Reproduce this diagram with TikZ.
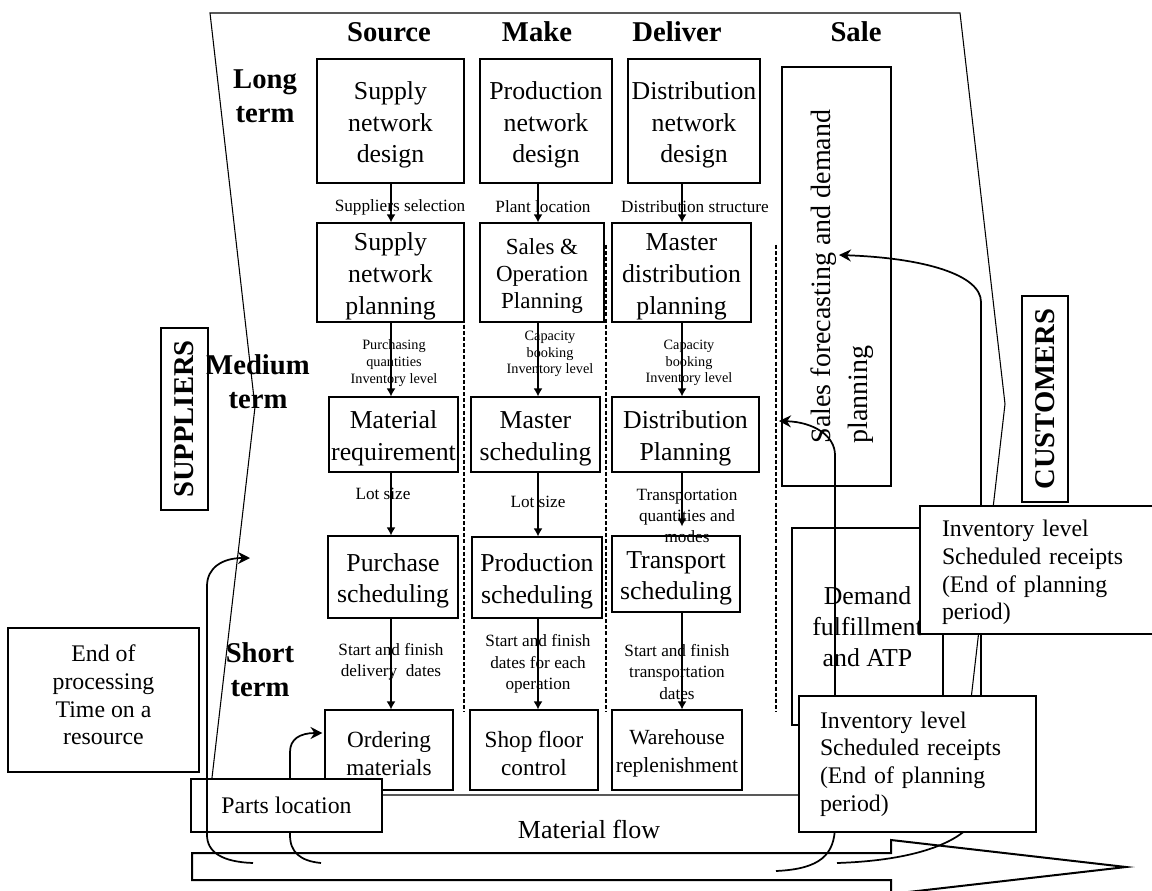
\documentclass[tikz,border=0pt]{standalone}
\usepackage{fontspec}
\setmainfont{Liberation Serif}
\usetikzlibrary{arrows.meta,calc}
\newcommand{\bxs}{\rule{0pt}{1em}}
\tikzset{
  pbox/.style={draw, line width=0.8pt, inner sep=0pt, align=center, font=\fontsize{19.35}{23.8}\selectfont},
  hdr/.style={inner sep=0pt, align=center, font=\fontsize{21.5}{25.5}\selectfont\bfseries},
  lbl/.style={inner sep=0pt, align=center, font=\fontsize{12.9}{16}\selectfont},
  tlbl/.style={inner sep=0pt, align=center, font=\fontsize{10.7}{12.5}\selectfont},
  flowarr/.style={line width=1.3pt, -{Latex[length=6pt,width=6.75pt]}},
  conn/.style={line width=1.3pt, -{Stealth[length=9pt,width=9pt,inset=3pt]}},
  dsep/.style={line width=1.1pt, dash pattern=on 3pt off 1.6pt},
  infobox/.style={draw, line width=1.5pt, fill=white, inner ysep=0pt, align=left, font=\fontsize{17.85}{20.7}\selectfont},
  sidebox/.style={draw, line width=1.1pt, rotate=90, inner sep=0pt, font=\fontsize{21.5}{25}\selectfont\bfseries},
}
\begin{document}
\begin{tikzpicture}[x=0.75pt,y=-0.75pt]
\useasboundingbox (0,0) rectangle (1152,891);
% outline
\draw[line width=0.8pt] (210,13) -- (960,13) -- (1005,404) -- (960,795) -- (210,795) -- (255,407) -- cycle;
% separators
\coordinate (s1t) at (464,245); \coordinate (s1b) at (464,712);
\coordinate (s2t) at (606,245); \coordinate (s2b) at (606,712);
\coordinate (s3t) at (776,245); \coordinate (s3b) at (776,712);
\draw[dsep] (s1t) -- (s1b);
\draw[dsep] (s2t) -- (s2b);
\draw[dsep] (s3t) -- (s3b);
% headings
\node[hdr] (hS) at (389,32) {Source};
\node[hdr] (hM) at (537,32) {Make};
\node[hdr] (hD) at (677,32) {Deliver};
\node[hdr] (hSa) at (856,32) {Sale};
\node[hdr] (hL) at (265,96) {Long\\term};
\node[hdr] (hMe) at (258,382) {Medium\\term};
\node[hdr] (hSh) at (260,670) {Short\\term};
% row 1
\node[pbox, minimum width=110.25pt, minimum height=93pt] (snd) at (390.5,121) {\bxs Supply\\network\\design};
\node[pbox, minimum width=99pt, minimum height=93pt] (pnd) at (546,121) {\bxs Production\\network\\design};
\node[pbox, minimum width=99pt, minimum height=93pt] (dnd) at (694,121) {\bxs Distribution\\network\\design};
% row 2
\node[pbox, minimum width=110.25pt, minimum height=74.25pt] (snp) at (390.5,272.5) {\bxs Supply\\network\\planning};
\node[pbox, minimum width=93pt, minimum height=74.25pt, font=\fontsize{17.25}{20.6}\selectfont] (sop) at (542,272.5) {\bxs Sales \&\\Operation\\Planning};
\node[pbox, minimum width=104.25pt, minimum height=74.25pt] (mdp) at (681.5,272.5) {\bxs Master\\distribution\\planning};
% row 3
\node[pbox, minimum width=96.75pt, minimum height=56.25pt] (mr) at (393.5,434.5) {\bxs Material\\requirement};
\node[pbox, minimum width=96.75pt, minimum height=56.25pt] (ms) at (535.5,434.5) {\bxs Master\\scheduling};
\node[pbox, minimum width=110.25pt, minimum height=56.25pt] (dp) at (685.5,434.5) {\bxs Distribution\\Planning};
% row 4
\node[pbox, minimum width=97.5pt, minimum height=61.5pt] (ps) at (393,577) {\bxs Purchase\\scheduling};
\node[pbox, minimum width=97.5pt, minimum height=60.75pt] (prs) at (537,577.5) {\bxs Production\\scheduling};
\node[pbox, minimum width=96pt, minimum height=57pt] (ts) at (676,574) {\bxs Transport\\scheduling};
% row 5
\node[pbox, minimum width=96pt, minimum height=60pt, font=\fontsize{17.4}{21}\selectfont] (om) at (389,750) {\bxs Ordering\\materials};
\node[pbox, minimum width=96pt, minimum height=60pt, font=\fontsize{17.4}{21}\selectfont] (sfc) at (534,750) {\bxs Shop floor\\control};
\node[pbox, minimum width=97.5pt, minimum height=60pt, font=\fontsize{16.2}{20.5}\selectfont] (wr) at (677,750) {\bxs Warehouse\\replenishment};
% sale column
\node[draw, line width=0.8pt, rotate=90, inner sep=0pt, minimum width=314.25pt, minimum height=81.75pt, align=left, font=\fontsize{21}{27.75}\selectfont] (sfb) at (836.5,276.5) {\rule{0pt}{23.5pt}Sales forecasting and demand\\planning};
% side boxes
\node[sidebox, minimum width=136.5pt, minimum height=35.25pt] (sup) at (184.5,419) {SUPPLIERS};
\node[sidebox, minimum width=154.5pt, minimum height=34.5pt] (cus) at (1045,399) {CUSTOMERS};
% column arrows
\coordinate (cS) at (391,0);
\coordinate (cM) at (538,0);
\coordinate (cD) at (682,0);
\draw[flowarr] (snd.south -| cS) -- (snp.north -| cS);
\draw[flowarr] (snp.south -| cS) -- (mr.north -| cS);
\draw[flowarr] (mr.south -| cS) -- (ps.north -| cS);
\draw[flowarr] (ps.south -| cS) -- (om.north -| cS);
\draw[flowarr] (pnd.south -| cM) -- (sop.north -| cM);
\draw[flowarr] (sop.south -| cM) -- (ms.north -| cM);
\draw[flowarr] (ms.south -| cM) -- (prs.north -| cM);
\draw[flowarr] (prs.south -| cM) -- (sfc.north -| cM);
\draw[flowarr] (dnd.south -| cD) -- (mdp.north -| cD);
\draw[flowarr] (mdp.south -| cD) -- (dp.north -| cD);
\draw[flowarr, shorten >=6.75pt] (dp.south -| cD) -- (ts.north -| cD);
\draw[flowarr] (ts.south -| cD) -- (wr.north -| cD);
% arrow labels
\node[lbl] (l1) at (400,207) {Suppliers selection};
\node[lbl] (l2) at (543,207) {Plant location};
\node[lbl] (l3) at (695,207) {Distribution structure};
\node[tlbl] (l4) at (394,363) {Purchasing\\quantities\\Inventory level};
\node[tlbl] (l5) at (550,354) {Capacity\\booking\\Inventory level};
\node[tlbl] (l6) at (689,363) {Capacity\\booking\\Inventory level};
\node[lbl] (l7) at (383,494) {Lot size};
\node[lbl] (l8) at (538,502) {Lot size};
\node[lbl] (l9) at (687,516) {Transportation\\quantities and\\modes};
\node[lbl] (l10) at (391,662) {Start and finish\\delivery\ \ dates};
\node[lbl] (l11) at (538,664) {Start and finish\\dates for each\\operation};
\node[lbl] (l12) at (677,672) {Start and finish\\transportation\\dates};
% demand box
\node[pbox, minimum width=113.25pt, minimum height=147.75pt, font=\fontsize{19.35}{23.25}\selectfont] (dem) at (867.5,626.5) {Demand\\fulfillment\\and ATP};
% material flow arrow
\draw[line width=1.5pt] (192,853) -- (891,853) -- (891,840) -- (1126,867) -- (891,894) -- (891,880) -- (192,880) -- cycle;
\node[inner sep=0pt, font=\fontsize{19.5}{23}\selectfont] (mf) at (589,829) {Material flow};
% connector start points
\coordinate (l1s) at (253,863);
\coordinate (l2s) at (321,863);
\coordinate (lAs) at (837,863);
\coordinate (lBs) at (776,871);
\coordinate (l1e) at (250,558);
\coordinate (lBe) at (779,421);
% connectors under boxes
\draw[conn] (l2s) .. controls (300,861) and (290,852) .. (290,835) -- (290,752) .. controls (290,739) and (300,733) .. ($(om.west)+(-2,-17)$);
\draw[conn] (lAs) .. controls (930,860) and (981,835) .. (981,800) -- (981,302) .. controls (981,275) and (925,258) .. ($(sfb.center)+(2.5,-21.5)$);
\draw[conn] (lBs) .. controls (820,869) and (835,855) .. (835,825) -- (835,455) .. controls (835,436) and (814,422) .. (lBe);
% parts location
\node[draw, line width=1.2pt, fill=white, inner sep=0pt, minimum width=143.25pt, minimum height=39.75pt, font=\fontsize{17.85}{20.7}\selectfont] (pl) at (286.5,805.5) {Parts location};
\draw[conn] (l1s) .. controls (222,862) and (207,852) .. (207,835) -- (207,586) .. controls (207,568) and (222,558) .. (l1e);
% info boxes
\node[infobox, text width=147pt, inner xsep=16.5pt, minimum height=96pt] (inv1) at (1040,570) {\rule{0pt}{16.3pt}Inventory level\\Scheduled receipts\\(End of planning\\period)};
\node[infobox, text width=146.25pt, inner xsep=15.75pt, minimum height=102pt] (inv2) at (917.5,764) {Inventory level\\Scheduled receipts\\(End of planning\\period)};
\node[draw, line width=1.5pt, inner sep=0pt, minimum width=143.25pt, minimum height=108pt, align=center, font=\fontsize{17.85}{20.7}\selectfont] (eop) at (103.5,700) {End of\\processing\\Time on a\\resource\rule[-7.5pt]{0pt}{0pt}};
\end{tikzpicture}
\end{document}
